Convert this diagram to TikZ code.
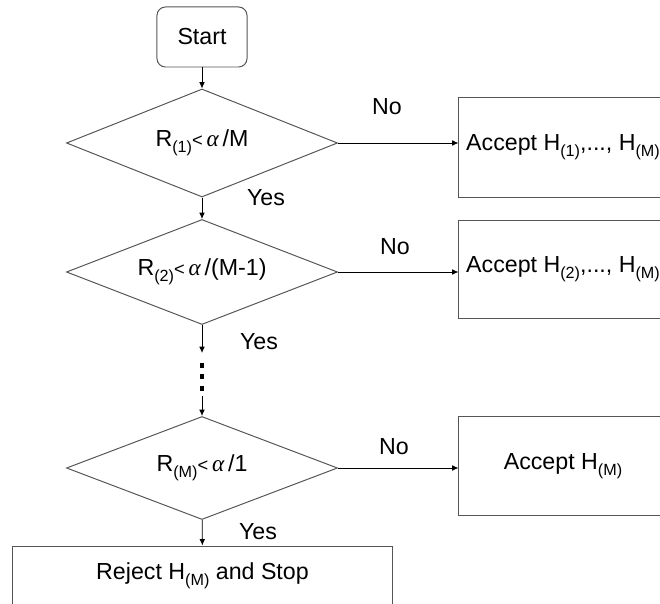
\documentclass[tikz,border=0pt]{standalone}
\usepackage{fontspec}
\setmainfont{Liberation Sans}
\newfontfamily\alphafont{Liberation Serif}
\usepackage{tikz}
\usetikzlibrary{arrows.meta,shapes.geometric,positioning}
\definecolor{edgegray}{RGB}{85,85,85}
\newcommand{\alp}{{\alphafont\itshape α}}
\newcommand{\hsub}[1]{\raisebox{-4.5pt}{\fontsize{11.5}{13}\selectfont(#1)}}
\newcommand{\lt}{{\fontsize{13}{13}\selectfont<}}

\tikzset{
  startbox/.style={draw=edgegray, rounded corners=6pt, minimum width=2.25cm, minimum height=1.5cm, line width=0.7pt},
  decision/.style={draw=edgegray, diamond, aspect=2.5, inner sep=0pt, minimum width=6.775cm, line width=0.7pt},
  outbox/.style={draw=edgegray, rectangle, inner sep=0pt, line width=0.7pt},
  flow/.style={->, line width=0.6pt},
  answer/.style={inner sep=1pt}
}

\begin{document}
\begin{tikzpicture}[>={Latex[length=4.5pt,width=4pt]}, x=0.025cm, y=-0.025cm, font=\fontsize{16.5}{19}\selectfont]
\useasboundingbox (0,0) rectangle (660,604);
\clip (0,0) rectangle (660,604);

% Start
\node[startbox] (start) at (202,37) {Start};

% Decision diamonds
\node[decision, minimum height=2.7cm] (d1) at (202,143) {R\hsub{1}\lt\,\alp\,/M};
\node[decision, minimum height=2.625cm] (d2) at (202,272) {R\hsub{2}\lt\,\alp\,/(M-1)};
\node[decision, minimum height=2.575cm] (d3) at (202,468) {R\hsub{M}\lt\,\alp\,/1};

% Outcome boxes
\node[outbox, minimum width=5.2cm, minimum height=2.475cm] (acc1) at (563,147.5) {Accept H\hsub{1},..., H\hsub{M}};
\node[outbox, minimum width=5.2cm, minimum height=2.425cm] (acc2) at (563,269.5) {Accept H\hsub{2},..., H\hsub{M}};
\node[outbox, minimum width=5.2cm, minimum height=2.45cm] (acc3) at (563,466) {Accept H\hsub{M}};
\node[outbox, minimum width=9.475cm, minimum height=1.5cm] (reject) at (202.5,576) {Reject H\hsub{M} and Stop};

% Gap in the chain of tests
\coordinate (gapTop) at (202,353);
\coordinate (dotsTop) at (202,363);
\coordinate (dotsBot) at (202,392);
\coordinate (gapBot) at (202,396);

% Connectors
\draw[flow] (start) -- (d1);
\draw[flow] (d1) -- (d2);
\draw[flow] (d2.south) -- (gapTop);
\draw[line width=3.5pt, dash pattern=on 3.5pt off 4.6pt] (dotsTop) -- (dotsBot);
\draw[flow] (gapBot) -- (d3.north);
\draw[flow] (d3) -- (reject);
\draw[flow] (d1.east) -- (d1.east -| acc1.west);
\draw[flow] (d2.east) -- (d2.east -| acc2.west);
\draw[flow] (d3.east) -- (d3.east -| acc3.west);

% Branch labels
\node[answer] (no1) at (387,107) {No};
\node[answer] (no2) at (395,247) {No};
\node[answer] (no3) at (394,447) {No};
\node[answer] (yes1) at (266,198) {Yes};
\node[answer] (yes2) at (259,342) {Yes};
\node[answer] (yes3) at (258,532) {Yes};

\end{tikzpicture}
\end{document}
